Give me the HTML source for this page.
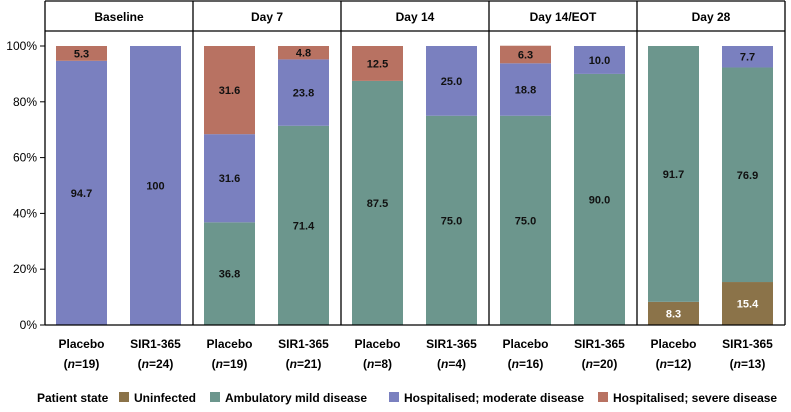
<!DOCTYPE html>
<html><head><meta charset="utf-8"><style>
body{margin:0;background:#fff;}
svg text{font-family:"Liberation Sans",sans-serif;}
</style></head><body>
<svg id="c" width="791" height="407"></svg>
<script>
const panels=["Baseline","Day 7","Day 14","Day 14/EOT","Day 28"];
const groups=["Placebo","SIR1-365"];
const nLabels=[["19","24"],["19","21"],["8","4"],["16","20"],["12","13"]];
const series=["Uninfected","Ambulatory mild disease","Hospitalised; moderate disease","Hospitalised; severe disease"];
const uninfected=[[0,0],[0,0],[0,0],[0,0],[8.3,15.4]];
const ambulatory=[[0,0],[36.8,71.4],[87.5,75.0],[75.0,90.0],[91.7,76.9]];
const moderate=[[94.7,100],[31.6,23.8],[0,25.0],[18.8,10.0],[0,7.7]];
const severe=[[5.3,0],[31.6,4.8],[12.5,0],[6.3,0],[0,0]];
const printed=[
 [["","","94.7","5.3"],["","","100",""]],
 [["","36.8","31.6","31.6"],["","71.4","23.8","4.8"]],
 [["","87.5","",  "12.5"],["","75.0","25.0",""]],
 [["","75.0","18.8","6.3"],["","90.0","10.0",""]],
 [["8.3","91.7","",""],["15.4","76.9","7.7",""]]];
const yTicks=[0,20,40,60,80,100];
const colors=["#8b7349","#6c968d","#7a80bf","#b87262"];
const svg=document.getElementById('c');
const NS="http://www.w3.org/2000/svg";
function mk(t,a,p){const e=document.createElementNS(NS,t);for(const k in a)e.setAttribute(k,a[k]);(p||svg).appendChild(e);return e;}
const L=45,R=785,T=1,H=31,Y0=325,Y100=46;
const y=v=>Y0-(Y0-Y100)*v/100;
const pw=(R-L)/panels.length;
const xBar=(p,g)=>L+p*pw+11+g*74;
const bw=51;
// axis ticks
yTicks.forEach(t=>{
 const l=mk('line',{x1:40,x2:L,y1:y(t),y2:y(t),stroke:'#000','stroke-width':1});
 
 const tx=mk('text',{x:37,y:y(t)+4,'text-anchor':'end','font-size':12,fill:'#000'});
 
 tx.textContent=t+'%';
});
const allS=[uninfected,ambulatory,moderate,severe];
panels.forEach((pn,p)=>{
 const ht=mk('text',{x:L+p*pw+pw/2,y:21,'text-anchor':'middle','font-size':12,'font-weight':'bold'});
 
 ht.textContent=pn;
 groups.forEach((gn,g)=>{
  let acc=0;const x=xBar(p,g);
  allS.forEach((s,si)=>{
   const v=s[p][g];if(v<=0)return;
   const r=mk('rect',{x:x,y:y(acc+v),width:bw,height:y(acc)-y(acc+v),fill:colors[si]});
   
   const lab=printed[p][g][si];
   if(lab){const t=mk('text',{x:x+bw/2,y:(y(acc)+y(acc+v))/2+4,'text-anchor':'middle','font-size':11,'font-weight':'bold',fill:si==0?'#fff':'#111'});
    t.textContent=lab;}
   acc+=v;
  });
  const c=x+bw/2;
  const t1=mk('text',{x:c,y:348,'text-anchor':'middle','font-size':12,'font-weight':'bold'});
  t1.textContent=gn;
  const t2=mk('text',{x:c,y:368,'text-anchor':'middle','font-size':12,'font-weight':'bold'});
  
  t2.innerHTML='(<tspan font-style="italic">n</tspan>='+nLabels[p][g]+')';
 });
});
// frame
const fr=[[L,T,R,T],[L,H,R,H],[L,T,L,Y0],[R,T,R,Y0],[L,Y0,R,Y0]];
for(let i=1;i<panels.length;i++)fr.push([L+i*pw,T,L+i*pw,Y0]);
fr.forEach(f=>{const l=mk('line',{x1:f[0],y1:f[1],x2:f[2],y2:f[3],stroke:'#000','stroke-width':1.3});
 });
// legend
const lg=mk('g',{});
const lt=mk('text',{x:37,y:402,'font-size':12,'font-weight':'bold'},lg);lt.textContent='Patient state';

const lx=[119,210,389,598];
series.forEach((s,i)=>{
 const r=mk('rect',{x:lx[i],y:392,width:10,height:10,fill:colors[i]},lg);
 
 const t=mk('text',{x:lx[i]+15,y:402,'font-size':12,'font-weight':'bold'},lg);
 t.textContent=s;
});
</script>
</body></html>
